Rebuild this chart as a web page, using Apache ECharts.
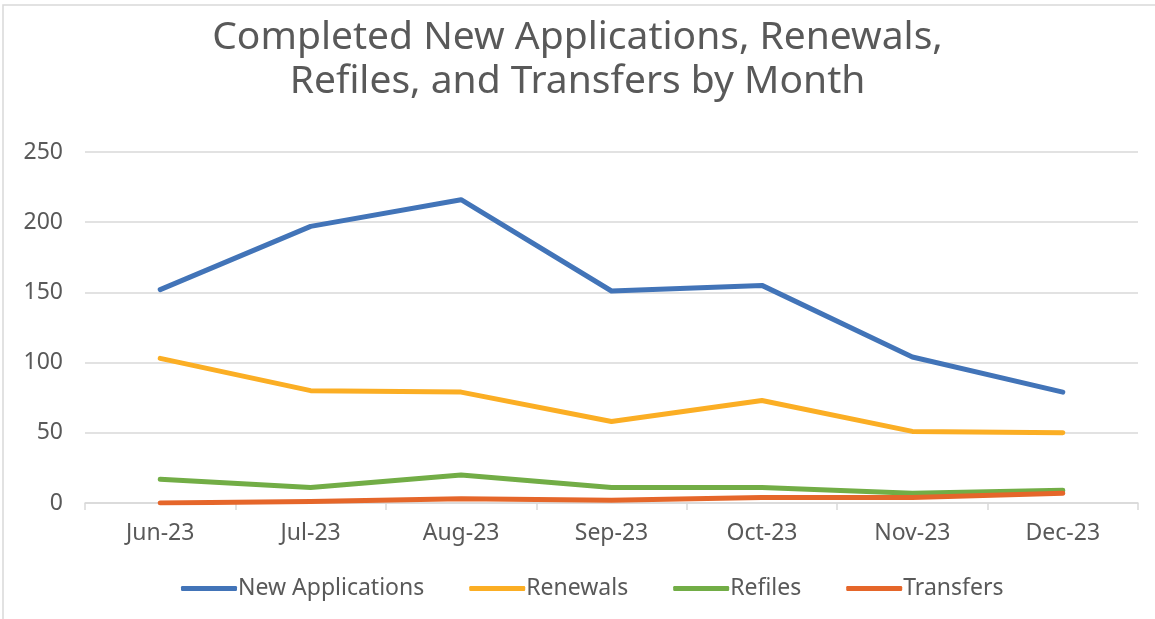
<!DOCTYPE html>
<html>
<head>
<meta charset="utf-8">
<script src="https://cdn.jsdelivr.net/npm/echarts@6/dist/echarts.min.js"></script>
<style>
  html, body { margin: 0; padding: 0; background: #fff; }
  #main { width: 1155px; height: 619px; }
</style>
</head>
<body>
<div id="main"></div>
<script>
// data
var months = ['Jun-23', 'Jul-23', 'Aug-23', 'Sep-23', 'Oct-23', 'Nov-23', 'Dec-23'];
var newApplications = [152, 197, 216, 151, 155, 104, 79];
var renewals = [103, 80, 79, 58, 73, 51, 50];
var refiles = [17, 11, 20, 11, 11, 7, 9];
var transfers = [0, 1, 3, 2, 4, 4, 7];

var chart = echarts.init(document.getElementById('main'));
var txt = '#595959';
var font = '"Noto Sans", sans-serif';

function mkLine(name, data, color) {
  return {
    name: name,
    type: 'line',
    data: data,
    showSymbol: false,
    symbol: 'none',
    itemStyle: { color: color },
    lineStyle: { color: color, width: 5, cap: 'round', join: 'round' }
  };
}

var option = {
  backgroundColor: '#fff',
  animation: false,
  textStyle: { fontFamily: font },
  title: {
    text: 'Completed New Applications, Renewals,\nRefiles, and Transfers by Month',
    left: 'center',
    top: 11,
    textStyle: { color: txt, fontSize: 39, fontWeight: 'normal', lineHeight: 44, fontFamily: font }
  },
  legend: {
    bottom: 14,
    left: 176,
    icon: 'roundRect',
    itemWidth: 56,
    itemHeight: 5,
    itemGap: 45,
    textStyle: { color: txt, fontSize: 23, fontFamily: font, padding: [0, 0, 0, -4] }
  },
  grid: { left: 85, right: 17, top: 152, bottom: 116 },
  xAxis: {
    type: 'category',
    data: months,
    boundaryGap: true,
    axisLine: { lineStyle: { color: '#d9d9d9', width: 1.5 } },
    axisTick: { show: true, length: 7, lineStyle: { color: '#d9d9d9', width: 1.5 } },
    axisLabel: { color: txt, fontSize: 23, margin: 19, fontFamily: font }
  },
  yAxis: {
    type: 'value',
    min: 0,
    max: 250,
    interval: 50,
    axisLine: { show: false },
    axisTick: { show: false },
    splitLine: { lineStyle: { color: '#d9d9d9', width: 1.5 } },
    axisLabel: { color: txt, fontSize: 23, margin: 22, fontFamily: font }
  },
  graphic: [{
    type: 'polyline',
    shape: { points: [[3, 619], [3, 5], [1155, 5]] },
    style: { fill: 'none', stroke: '#d9d9d9', lineWidth: 1.5 },
    silent: true
  }],
  series: [
    mkLine('New Applications', newApplications, '#4274b8'),
    mkLine('Renewals', renewals, '#fbae24'),
    mkLine('Refiles', refiles, '#72ad46'),
    mkLine('Transfers', transfers, '#e5662a')
  ]
};
chart.setOption(option);
</script>
</body>
</html>
